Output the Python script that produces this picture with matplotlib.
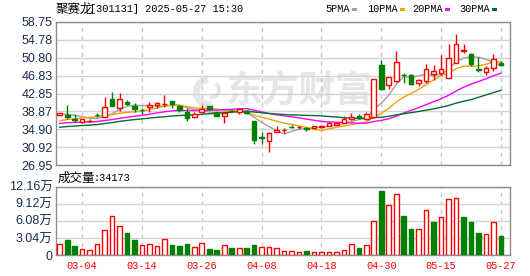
import numpy as np
import pandas as pd
import matplotlib
matplotlib.use('Agg')
import matplotlib.pyplot as plt
from matplotlib.patches import Wedge

# ---------------- data ----------------
dates = ['02-27', '02-28', '03-03', '03-04', '03-05', '03-06', '03-07', '03-10', '03-11', '03-12',
         '03-13', '03-14', '03-17', '03-18', '03-19', '03-20', '03-21', '03-24', '03-25', '03-26',
         '03-27', '03-28', '03-31', '04-01', '04-02', '04-03', '04-07', '04-08', '04-09', '04-10',
         '04-11', '04-14', '04-15', '04-16', '04-17', '04-18', '04-21', '04-22', '04-23', '04-24',
         '04-25', '04-28', '04-29', '04-30', '05-06', '05-07', '05-08', '05-09', '05-12', '05-13',
         '05-14', '05-15', '05-16', '05-19', '05-20', '05-21', '05-22', '05-23', '05-26', '05-27']

open_ = [38.0, 38.1, 37.1, 36.45, 36.7, 38.1, 37.7, 41.6, 39.55, 40.9,
         40.05, 39.25, 39.8, 40.2, 40.45, 41.15, 40.1, 38.8, 37.6, 38.7,
         40.05, 38.65, 37.9, 39.0, 38.66, 38.95, 36.75, 33.15, 32.3, 34.24,
         34.7, 35.4, 35.3, 35.15, 35.1, 35.45, 35.7, 35.9, 36.2, 37.1,
         37.8, 37.1, 37.6, 49.1, 44.85, 45.6, 47.0, 47.0, 45.15, 45.65,
         47.2, 47.3, 46.3, 49.68, 52.3, 51.74, 48.2, 47.7, 48.57, 49.68]
high = [38.6, 40.3, 38.3, 37.2, 37.1, 38.6, 42.0, 43.1, 42.9, 41.5,
        40.65, 39.7, 40.9, 40.9, 42.5, 41.2, 40.2, 39.55, 38.7, 40.4,
        40.1, 38.7, 38.7, 39.2, 39.7, 39.1, 36.8, 34.3, 34.2, 35.6,
        35.25, 35.85, 35.6, 35.5, 35.7, 35.85, 36.4, 36.5, 37.9, 38.57,
        38.4, 38.8, 46.0, 50.2, 46.6, 52.3, 47.35, 47.1, 46.1, 49.35,
        49.2, 51.5, 53.95, 56.16, 53.9, 51.8, 51.0, 48.9, 51.74, 50.1]
low = [37.95, 37.15, 36.6, 36.3, 36.6, 37.6, 37.6, 40.0, 38.9, 40.2,
       38.66, 38.2, 38.8, 39.6, 39.77, 39.6, 38.7, 36.8, 37.3, 38.5,
       39.3, 37.9, 36.4, 38.7, 38.2, 38.4, 31.65, 31.7, 29.8, 34.2,
       34.0, 35.1, 35.05, 34.4, 35.0, 35.1, 35.6, 35.8, 36.2, 36.95,
       37.1, 36.95, 37.5, 43.6, 43.75, 45.3, 45.15, 44.85, 44.6, 45.15,
       45.9, 46.9, 46.2, 49.6, 51.8, 49.0, 47.7, 47.0, 47.95, 49.0]
close = [38.57, 37.6, 36.85, 37.1, 36.75, 38.0, 39.8, 40.05, 41.6, 40.5,
         39.4, 39.15, 40.4, 40.7, 40.6, 40.5, 39.2, 37.5, 38.3, 39.3,
         39.4, 37.95, 38.6, 38.9, 39.33, 38.5, 32.4, 33.05, 34.15, 34.76,
         34.8, 35.35, 35.4, 35.05, 35.6, 35.55, 36.3, 36.4, 37.1, 37.68,
         37.7, 38.3, 46.0, 43.8, 46.55, 49.85, 46.9, 44.9, 45.88, 48.3,
         47.95, 48.4, 50.83, 53.95, 52.45, 49.3, 48.05, 48.5, 50.45, 49.17]

# closes before the first visible day (estimated so the moving averages start where shown)
prior_close = [33.0, 33.3, 33.8, 34.2, 33.9, 33.5, 33.4, 33.7, 34.0, 33.7,
               34.6, 35.2, 35.8, 36.3, 35.9, 35.5, 35.8, 36.1, 35.6, 35.2,
               35.0, 35.3, 35.1, 35.6, 36.0, 37.2, 38.3, 38.6, 38.3]

# volume in 万 shares
volume = [1.96, 2.67, 1.60, 1.01, 0.83, 1.96, 4.45, 6.94, 5.16, 3.92,
          2.67, 1.78, 1.96, 1.60, 2.85, 1.78, 1.60, 1.96, 1.42, 2.08,
          1.07, 0.89, 1.78, 1.25, 1.25, 1.25, 1.78, 1.42, 1.42, 1.25,
          0.71, 0.71, 0.53, 0.71, 0.53, 0.53, 0.53, 0.53, 0.89, 1.96,
          1.25, 1.78, 6.05, 11.45, 8.90, 10.80, 6.94, 4.63, 4.63, 8.01,
          5.87, 6.70, 9.97, 10.15, 6.77, 5.87, 3.92, 3.68, 5.87, 3.4173]
# 1 = red (up) volume bar, 0 = green
volume_up = [1, 0, 0, 1, 1, 1, 1, 1, 1, 0,
             0, 1, 1, 1, 1, 0, 0, 0, 1, 1,
             0, 0, 1, 0, 1, 0, 0, 1, 1, 1,
             1, 1, 1, 0, 1, 1, 1, 1, 1, 1,
             0, 1, 1, 0, 1, 1, 0, 0, 1, 1,
             0, 1, 1, 1, 0, 0, 0, 1, 1, 0]

ma_periods = [5, 10, 20, 30]
ma_labels = ['5PMA', '10PMA', '20PMA', '30PMA']
ma_colors = ['#a0a0a0', '#f0a400', '#ff00ff', '#00702a']

price_ticks = [26.95, 30.92, 34.90, 38.87, 42.85, 46.83, 50.80, 54.78, 58.75]
price_tick_labels = ['26.95', '30.92', '34.90', '38.87', '42.85', '46.83', '50.80', '54.78', '58.75']
vol_ticks = [0, 3.04, 6.08, 9.12, 12.16]
vol_tick_labels = ['0', '3.04万', '6.08万', '9.12万', '12.16万']
date_ticks = ['03-04', '03-14', '03-26', '04-08', '04-18', '04-30', '05-15', '05-27']

title_name = '聚赛龙'
title_rest = '[301131] 2025-05-27 15:30'
vol_title = '成交量'
vol_last = ':34173'
watermark = '东方财富'

# ---------------- drawing ----------------
W, H = 530, 276
fig = plt.figure(figsize=(W / 100, H / 100), dpi=100)
fig.patch.set_facecolor('white')

RED = '#ff0000'
GREEN = '#008000'
GRID = '#d4d4d4'
FRAME = '#8c8c8c'
NAVY = '#1c2d4f'
WM = '#e6e6ea'

def fx(px):
    return px / W

def fy(py):
    return 1 - py / H

ax = fig.add_axes([fx(56), fy(165), fx(509.5) - fx(56), (165 - 22) / H])
axv = fig.add_axes([fx(56), fy(255), fx(509.5) - fx(56), (255 - 186.7) / H])

n = len(close)
x = np.arange(n)
xlim = (-0.5, 60.15)
tick_pos = [dates.index(d) for d in date_ticks]

o = np.array(open_); c = np.array(close); hi = np.array(high); lo = np.array(low)
up = c >= o
col = np.where(up, RED, GREEN)

# wicks
ax.vlines(x, lo, hi, colors=col, linewidth=1, zorder=3)
# bodies
body_h = np.abs(c - o)
body_h = np.where(body_h < 0.06, 0.06, body_h)
ax.bar(x, body_h, bottom=np.minimum(o, c), width=0.62,
       color=np.where(up, 'white', GREEN), edgecolor=col, linewidth=1, zorder=4)

# moving averages
all_close = pd.Series(prior_close + close)
for p, lab, cc in zip(ma_periods, ma_labels, ma_colors):
    ma = all_close.rolling(p).mean().iloc[len(prior_close):].to_numpy()
    ax.plot(x, ma, color=cc, linewidth=1, zorder=2.5)

ax.set_xlim(*xlim)
ax.set_ylim(26.95, 58.75)
ax.set_yticks(price_ticks)
ax.set_yticklabels(price_tick_labels, fontsize=9, color=NAVY, family=['Liberation Sans'])
ax.set_xticks(tick_pos)
ax.set_xticklabels([])
ax.tick_params(axis='both', length=0, pad=2.5)
ax.grid(axis='y', color=GRID, linewidth=1, zorder=0)
ax.grid(axis='x', color='#c8c8c8', linewidth=1, linestyle=(0, (3, 3)), zorder=0)
for s in ax.spines.values():
    s.set_color(FRAME)
    s.set_linewidth(1)

# watermark (logo swirl + text)
ax.text(fx(299), fy(92), watermark, transform=fig.transFigure, ha='center', va='center',
        fontsize=26.5, color=WM, family=['Noto Sans CJK SC'], fontweight='bold', zorder=1)
logo = Wedge((209, H - 92), 16, 95, 285, width=7, transform=None,
             facecolor=WM, edgecolor='none', zorder=1)
ax.add_artist(logo)
logo2 = Wedge((212, H - 90), 9, 250, 60, width=4, transform=None,
              facecolor=WM, edgecolor='none', zorder=1)
ax.add_artist(logo2)

# volume
v = np.array(volume)
vup = np.array(volume_up) == 1
axv.bar(x, v, width=0.62, color=np.where(vup, 'white', GREEN),
        edgecolor=np.where(vup, RED, GREEN), linewidth=1, zorder=3)
axv.set_xlim(*xlim)
axv.set_ylim(0, 12.16)
axv.set_yticks(vol_ticks)
axv.set_yticklabels(vol_tick_labels, fontsize=9, color=NAVY,
                    family=['Liberation Sans', 'Noto Sans CJK SC'])
axv.set_xticks(tick_pos)
axv.set_xticklabels(date_ticks, fontsize=7.4, color=RED, family=['Liberation Mono'])
axv.tick_params(axis='both', length=0, pad=2.5)
axv.tick_params(axis='x', pad=4)
axv.grid(axis='y', color=GRID, linewidth=1, zorder=0)
axv.grid(axis='x', color='#c8c8c8', linewidth=1, linestyle=(0, (3, 3)), zorder=0)
for s in axv.spines.values():
    s.set_color(FRAME)
    s.set_linewidth(1)

# titles
fig.text(fx(56), fy(9), title_name, fontsize=9, family=['Noto Sans CJK SC'], va='center', ha='left')
fig.text(fx(90), fy(9), title_rest, fontsize=7.4, family=['Liberation Mono'], va='center', ha='left')
fig.text(fx(57.5), fy(178), vol_title, fontsize=9, family=['Noto Sans CJK SC'], va='center', ha='left')
fig.text(fx(93), fy(178), vol_last, fontsize=7.4, family=['Liberation Mono'], va='center', ha='left')

# legend
leg_x = [325.7, 367, 412.7, 459]
for lab, cc, lx in zip(ma_labels, ma_colors, leg_x):
    fig.text(fx(lx), fy(9), lab, fontsize=7.4, family=['Liberation Mono'], va='center', ha='left')
    wpx = len(lab) * 6.1
    fig.patches.append(plt.Rectangle((fx(lx + wpx + 2), fy(11)), 5 / W, 3.5 / H,
                                     transform=fig.transFigure, facecolor=cc, edgecolor='none'))

fig.savefig('out.png', dpi=100)
